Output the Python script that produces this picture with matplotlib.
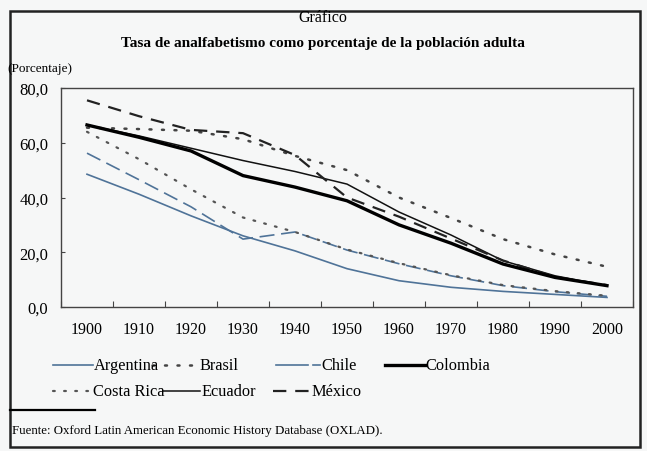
import matplotlib
matplotlib.use("Agg")
import matplotlib.pyplot as plt
from matplotlib.lines import Line2D
from matplotlib.patches import Rectangle

plt.rcParams['font.family'] = ['Liberation Serif', 'DejaVu Serif']

years = ['1900', '1910', '1920', '1930', '1940', '1950', '1960', '1970', '1980', '1990', '2000']
argentina = [48.5, 41.2, 33.3, 26.0, 20.5, 14.0, 9.6, 7.2, 5.7, 4.6, 3.5]
brasil = [65.5, 65.0, 64.4, 61.3, 55.2, 50.0, 40.0, 32.5, 24.8, 19.2, 14.7]
chile = [56.2, 46.5, 36.6, 24.8, 27.4, 20.8, 15.8, 11.4, 7.8, 5.6, 3.9]
colombia = [66.5, 62.0, 57.0, 48.0, 43.8, 38.8, 30.0, 23.3, 15.7, 10.8, 7.8]
costa_rica = [64.0, 54.0, 43.0, 32.7, 27.4, 21.0, 16.0, 11.6, 8.0, 5.8, 4.1]
ecuador = [66.5, 62.5, 58.0, 53.5, 49.5, 44.9, 34.7, 26.3, 16.9, 11.4, 7.8]
mexico = [75.5, 69.7, 64.7, 63.5, 55.5, 40.0, 33.0, 25.0, 17.0, 11.0, 8.0]
yticks = [0, 20, 40, 60, 80]
ytick_labels = ['0,0', '20,0', '40,0', '60,0', '80,0']

W, H = 647, 452
fig = plt.figure(figsize=(W / 100, H / 100), dpi=100)
bg = '#f6f7f7'
fig.patch.set_facecolor(bg)

def fx(px):
    return px / W

def fy(py):
    return 1 - py / H

ax = fig.add_axes([fx(61), fy(308), fx(633) - fx(61), fy(89) - fy(308)])
ax.set_facecolor(bg)

x = list(range(len(years)))
blue = '#4f7398'
ax.plot(x, argentina, color=blue, lw=1.2)
ax.plot(x, chile, color=blue, lw=1.2, dashes=(9, 4))
ax.plot(x, costa_rica, color='#555555', lw=1.6, linestyle=(0, (0.8, 4.2)), dash_capstyle='round')
ax.plot(x, brasil, color='#444444', lw=1.8, linestyle=(0, (0.8, 4.2)), dash_capstyle='round')
ax.plot(x, ecuador, color='#111111', lw=1.1)
ax.plot(x, mexico, color='#222222', lw=1.6, dashes=(6, 4))
ax.plot(x, colombia, color='#000000', lw=2.4)

ax.set_xlim(-0.5, len(years) - 0.5)
ax.set_ylim(0, 80)
ax.set_xticks([i + 0.5 for i in range(-1, len(years))])
ax.set_xticklabels([])
ax.set_xticks(x, minor=True)
ax.set_xticklabels(years, minor=True, fontsize=11.5)
ax.tick_params(axis='x', which='minor', length=0, pad=10)
ax.tick_params(axis='x', which='major', direction='in', length=4, color='#444444')
ax.set_yticks(yticks)
ax.set_yticklabels(ytick_labels, fontsize=12)
ax.tick_params(axis='y', direction='in', length=3, color='#444444', pad=9)
for s in ax.spines.values():
    s.set_color('#444444')
    s.set_linewidth(1.0)

fig.text(fx(323), fy(18), 'Gráfico', ha='center', va='center', fontsize=11.5)
fig.text(fx(323), fy(44), 'Tasa de analfabetismo como porcentaje de la población adulta',
         ha='center', va='center', fontsize=11, fontweight='bold')
fig.text(fx(7), fy(69), '(Porcentaje)', ha='left', va='center', fontsize=9.5)

def legend_line(x0, x1, y, **kw):
    fig.add_artist(Line2D([fx(x0), fx(x1)], [fy(y), fy(y)], transform=fig.transFigure, **kw))

def legend_text(tx, y, label):
    fig.text(fx(tx), fy(y), label, ha='left', va='center', fontsize=11.8)

dot = dict(linestyle=(0, (0.8, 4.2)), dash_capstyle='round')
legend_line(53, 93, 366, color=blue, lw=1.2)
legend_text(94, 366, 'Argentina')
legend_line(152, 197, 366, color='#444444', lw=1.8, **dot)
legend_text(200, 366, 'Brasil')
legend_line(276, 308, 366, color=blue, lw=1.2)
legend_line(313, 320, 366, color=blue, lw=1.2)
legend_text(321, 366, 'Chile')
legend_line(385, 425, 366, color='#000000', lw=2.4)
legend_text(425, 366, 'Colombia')
legend_line(53, 88, 392, color='#555555', lw=1.6, **dot)
legend_text(93, 392, 'Costa Rica')
legend_line(163, 200, 392, color='#111111', lw=1.1)
legend_text(201, 392, 'Ecuador')
legend_line(273, 312, 392, color='#222222', lw=1.6, dashes=(6, 4))
legend_text(312, 392, 'México')

fig.add_artist(Line2D([fx(10), fx(95)], [fy(411), fy(411)], transform=fig.transFigure, color='black', lw=1.6))
fig.text(fx(12), fy(431), 'Fuente: Oxford Latin American Economic History Database (OXLAD).',
         ha='left', va='center', fontsize=9.3)

fig.add_artist(Rectangle((fx(10), fy(448)), fx(640) - fx(10), fy(12) - fy(448),
                         transform=fig.transFigure, fill=False, edgecolor='#222222', lw=1.8))

fig.savefig('out.png', dpi=100, facecolor=bg)
